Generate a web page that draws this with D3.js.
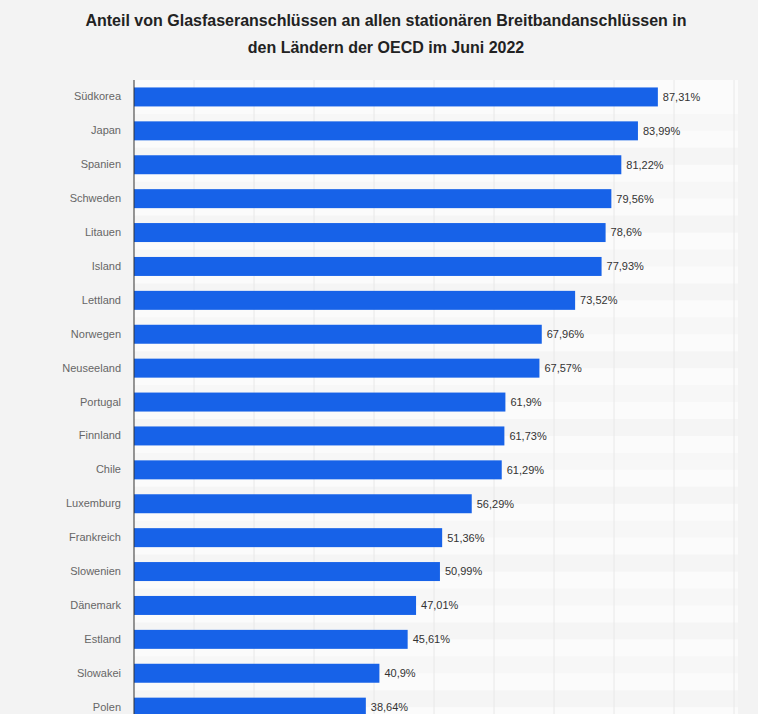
<!DOCTYPE html>
<html>
<head>
<meta charset="utf-8">
<script src="https://cdn.jsdelivr.net/npm/d3@7"></script>
<style>
	body { margin: 0; background: #f3f3f3; }
	svg { display: block; font-family: "Liberation Sans", Arial, sans-serif; }
</style>
</head>
<body>
<svg id="chart" width="758" height="714"></svg>
<script>
// Anteil Glasfaser an stationaeren Breitbandanschluessen, OECD Juni 2022
let countries = ["Südkorea", "Japan", "Spanien", "Schweden", "Litauen", "Island", "Lettland", "Norwegen", "Neuseeland", "Portugal", "Finnland", "Chile", "Luxemburg", "Frankreich", "Slowenien", "Dänemark", "Estland", "Slowakei", "Polen"];
let shares = [87.31, 83.99, 81.22, 79.56, 78.6, 77.93, 73.52, 67.96, 67.57, 61.9, 61.73, 61.29, 56.29, 51.36, 50.99, 47.01, 45.61, 40.9, 38.64];
let gridTicks = [10, 20, 30, 40, 50, 60, 70, 80, 90, 100];
let titleLines = ["Anteil von Glasfaseranschlüssen an allen stationären Breitbandanschlüssen in", "den Ländern der OECD im Juni 2022"];

let data = countries.map((c, i) => ({"key": c, "value": shares[i]}));

let margin = {"left": 134, "top": 80, "right": 20};
let width = 758;
let rowStep = 33.9;

let scaleX = d3.scaleLinear()
	.domain([0, 100])
	.range([margin.left, 734]);

let scaleY = d3.scaleBand()
	.domain(countries)
	.range([margin.top, margin.top + rowStep * countries.length])
	.paddingInner(0.44)
	.paddingOuter(0.22);

let svg = d3.select("#chart");

// title
svg.append("g").attr("class", "title")
	.selectAll("text")
	.data(titleLines)
	.join("text")
	.attr("x", 386)
	.attr("y", (d, i) => 26 + i * 27)
	.attr("text-anchor", "middle")
	.attr("font-size", "16px")
	.attr("font-weight", "bold")
	.attr("fill", "#222")
	.text(d => d);

// plot background with row stripes
let step = scaleY.step();
svg.append("rect")
	.attr("x", margin.left)
	.attr("y", margin.top)
	.attr("width", 604)
	.attr("height", 714 - margin.top)
	.attr("fill", "#fbfbfb");

svg.append("g").attr("class", "stripes")
	.selectAll("rect")
	.data(countries)
	.join("rect")
	.attr("x", margin.left)
	.attr("y", d => scaleY(d) - step * 0.22 + step)
	.attr("width", 604)
	.attr("height", step / 2)
	.attr("fill", (d, i) => i % 2 ? "#f5f5f5" : "#f7f7f7");

// grid
svg.append("g").attr("class", "grid")
	.selectAll("line")
	.data(gridTicks)
	.join("line")
	.attr("x1", d => scaleX(d))
	.attr("x2", d => scaleX(d))
	.attr("y1", margin.top)
	.attr("y2", 714)
	.attr("stroke", "#e8e8e8")
	.attr("stroke-width", 1);

// bars
svg.append("g").attr("class", "bars")
	.selectAll("rect")
	.data(data)
	.join("rect")
	.attr("x", scaleX(0))
	.attr("y", d => scaleY(d.key))
	.attr("width", d => scaleX(d.value) - scaleX(0))
	.attr("height", scaleY.bandwidth())
	.attr("fill", "#1762e8");

// value labels
let valueFormat = v => String(+v.toFixed(2)).replace(".", ",") + "%";
svg.append("g").attr("class", "values")
	.selectAll("text")
	.data(data)
	.join("text")
	.attr("x", d => scaleX(d.value) + 5)
	.attr("y", d => scaleY(d.key) + scaleY.bandwidth() / 2)
	.attr("dy", "0.35em")
	.attr("font-size", "11px")
	.attr("fill", "#333")
	.text(d => valueFormat(d.value));

// y axis
let axisY = svg.append("g")
	.attr("class", "axisY")
	.attr("transform", "translate(" + margin.left + ",0)")
	.call(d3.axisLeft(scaleY).tickSize(0).tickPadding(13));
axisY.select(".domain")
	.attr("d", "M0," + margin.top + "V714")
	.attr("stroke", "#333");
axisY.selectAll("text")
	.attr("font-size", "11px")
	.attr("font-family", "Liberation Sans, Arial, sans-serif")
	.attr("fill", "#666");
</script>
</body>
</html>
